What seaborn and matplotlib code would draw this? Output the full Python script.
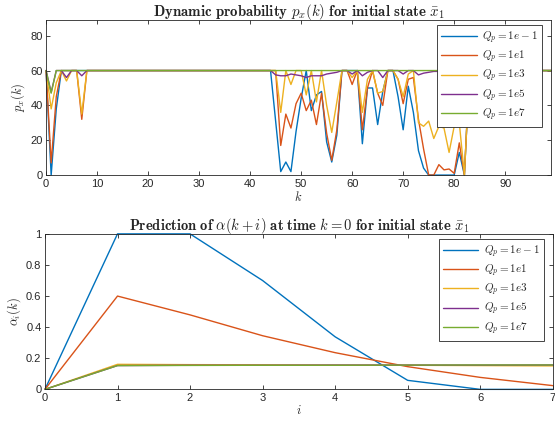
import numpy as np
import pandas as pd
import matplotlib
matplotlib.use('Agg')
import matplotlib.pyplot as plt
import seaborn as sns

# legend labels and MATLAB default colours
labels = [r'$Q_p = 1e-1$', r'$Q_p = 1e1$', r'$Q_p = 1e3$', r'$Q_p = 1e5$', r'$Q_p = 1e7$']
colors = ['#0072BD', '#D95319', '#EDB120', '#7E2F8E', '#77AC30']

# top plot: dynamic probability p_x(k), k = 0..99
k_steps = list(range(100))
p_q1 = [60, 0, 38, 60, 60, 60, 60, 60, 60, 60,
        60, 60, 60, 60, 60, 60, 60, 60, 60, 60,
        60, 60, 60, 60, 60, 60, 60, 60, 60, 60,
        60, 60, 60, 60, 60, 60, 60, 60, 60, 60,
        60, 60, 60, 60, 60, 31, 2, 7.5, 2, 25,
        44, 60, 37, 46, 48, 19, 7.5, 23, 60, 60,
        60, 60, 18, 50, 50, 29, 48, 60, 60, 45,
        26, 51, 36, 14, 4, 0, 0, 0, 0, 0,
        0, 13, 0, 60, 60, 60, 60, 60, 60, 60,
        60, 60, 60, 60, 60, 60, 60, 60, 60, 60]
p_q2 = [60, 7, 45, 60, 60, 60, 60, 32, 60, 60,
        60, 60, 60, 60, 60, 60, 60, 60, 60, 60,
        60, 60, 60, 60, 60, 60, 60, 60, 60, 60,
        60, 60, 60, 60, 60, 60, 60, 60, 60, 60,
        60, 60, 60, 60, 60, 60, 17, 35, 27, 41,
        47, 37, 43, 29, 47, 24, 8.5, 26, 60, 60,
        52, 60, 26, 50, 60, 47, 40, 60, 60, 55,
        41, 55, 56, 32, 15, 0, 0, 6, 3, 3.5,
        1, 18.5, 0, 60, 60, 60, 60, 60, 60, 60,
        60, 60, 60, 60, 60, 60, 60, 60, 60, 60]
p_q3 = [60, 38, 53, 60, 54, 60, 60, 35, 60, 60,
        60, 60, 60, 60, 60, 60, 60, 60, 60, 60,
        60, 60, 60, 60, 60, 60, 60, 60, 60, 60,
        60, 60, 60, 60, 60, 60, 60, 60, 60, 60,
        60, 60, 60, 60, 60, 60, 36, 60, 52, 60,
        60, 46, 60, 42, 60, 40, 24.5, 42, 60, 60,
        56, 60, 36, 55, 60, 47, 48, 60, 60, 55,
        45, 58, 60, 30, 28, 31, 21, 28, 27, 13,
        28, 30, 0, 60, 60, 60, 60, 60, 60, 60,
        60, 60, 60, 60, 60, 60, 60, 60, 60, 60]
p_q4 = [60, 47.5, 60, 60, 56, 60, 60, 57, 60, 60,
        60, 60, 60, 60, 60, 60, 60, 60, 60, 60,
        60, 60, 60, 60, 60, 60, 60, 60, 60, 60,
        60, 60, 60, 60, 60, 60, 60, 60, 60, 60,
        60, 60, 60, 60, 60, 57.5, 57, 57, 58, 57.5,
        57, 56, 57, 57, 57, 58, 58.5, 59, 60, 60,
        58, 60, 57, 59, 60, 60, 56, 60, 60, 60,
        58, 60, 60, 57.5, 58.5, 59, 59.5, 59.5, 59.7, 59.8,
        60, 60, 60, 60, 60, 60, 60, 60, 60, 60,
        60, 60, 60, 60, 60, 60, 60, 60, 60, 60]
p_q5 = [60, 47, 60, 60, 60, 60, 60, 60, 60, 60,
        60, 60, 60, 60, 60, 60, 60, 60, 60, 60,
        60, 60, 60, 60, 60, 60, 60, 60, 60, 60,
        60, 60, 60, 60, 60, 60, 60, 60, 60, 60,
        60, 60, 60, 60, 60, 60, 60, 60, 60, 60,
        60, 60, 60, 60, 60, 60, 60, 60, 60, 60,
        60, 60, 60, 60, 60, 60, 60, 60, 60, 60,
        60, 60, 60, 60, 60, 60, 60, 60, 60, 60,
        60, 60, 60, 60, 60, 60, 60, 60, 60, 60,
        60, 60, 60, 60, 60, 60, 60, 60, 60, 60]

# bottom plot: predicted alpha_i(k), i = 0..7
i_steps = [0, 1, 2, 3, 4, 5, 6, 7]
a_q1 = [0, 1.0, 1.0, 0.70, 0.338, 0.058, 0, 0]
a_q2 = [0, 0.60, 0.479, 0.345, 0.236, 0.146, 0.077, 0.024]
a_q3 = [0, 0.161, 0.159, 0.158, 0.156, 0.155, 0.153, 0.151]
a_q4 = [0, 0.153, 0.155, 0.155, 0.156, 0.156, 0.156, 0.157]
a_q5 = [0, 0.153, 0.154, 0.155, 0.155, 0.156, 0.157, 0.157]

top_xticks = [0, 10, 20, 30, 40, 50, 60, 70, 80, 90]
top_yticks = [0, 20, 40, 60, 80]
bot_xticks = [0, 1, 2, 3, 4, 5, 6, 7]
bot_yticks = [0, 0.2, 0.4, 0.6, 0.8, 1.0]
bot_yticklabels = ['0', '0.2', '0.4', '0.6', '0.8', '1']

sns.set_style('ticks')
plt.rcParams['font.family'] = ['Liberation Sans', 'DejaVu Sans']
plt.rcParams['mathtext.fontset'] = 'cm'

top_df = pd.DataFrame({'k': k_steps, labels[0]: p_q1, labels[1]: p_q2, labels[2]: p_q3,
                       labels[3]: p_q4, labels[4]: p_q5})
top_df = top_df.melt(id_vars='k', var_name='Q', value_name='p')
bot_df = pd.DataFrame({'i': i_steps, labels[0]: a_q1, labels[1]: a_q2, labels[2]: a_q3,
                       labels[3]: a_q4, labels[4]: a_q5})
bot_df = bot_df.melt(id_vars='i', var_name='Q', value_name='a')

palette = dict(zip(labels, colors))

fig = plt.figure(figsize=(5.55, 4.26), dpi=100)
ax1 = fig.add_axes([0.083, 0.589, 0.910, 0.364])
ax2 = fig.add_axes([0.081, 0.086, 0.915, 0.365])

sns.lineplot(data=top_df, x='k', y='p', hue='Q', hue_order=labels, palette=palette,
             linewidth=1.0, ax=ax1)
sns.lineplot(data=bot_df, x='i', y='a', hue='Q', hue_order=labels, palette=palette,
             linewidth=1.0, ax=ax2)

edge = '#262626'
for ax in [ax1, ax2]:
    for line in ax.lines:
        line.set_clip_on(False)
    for s in ax.spines.values():
        s.set_visible(True)
        s.set_color(edge)
        s.set_linewidth(0.6)
    ax.tick_params(direction='in', length=3, width=0.6, top=True, right=True,
                   labelsize=8, colors=edge, pad=2.5)
    ax.legend(loc='upper right', bbox_to_anchor=(0.982, 0.965), borderaxespad=0,
              fontsize=8, frameon=True, fancybox=False, framealpha=1,
              edgecolor=edge, handlelength=3.2, labelspacing=0.25,
              borderpad=0.35, handletextpad=0.5).get_frame().set_linewidth(0.6)

ax1.set_xlim(0, 99)
ax1.set_ylim(0, 89)
ax1.set_xticks(top_xticks)
ax1.set_yticks(top_yticks)
ax1.set_title(r'$\mathbf{Dynamic\ probability}\ p_x(k)\ \mathbf{for\ initial\ state}\ \bar{x}_1$',
              fontsize=10.7, pad=3)
ax1.set_xlabel(r'$k$', fontsize=9, labelpad=1)
ax1.set_ylabel(r'$p_x(k)$', fontsize=9, labelpad=2)

ax2.set_xlim(0, 7)
ax2.set_ylim(0, 1)
ax2.set_xticks(bot_xticks)
ax2.set_yticks(bot_yticks)
ax2.set_yticklabels(bot_yticklabels)
ax2.set_title(r'$\mathbf{Prediction\ of}\ \alpha(k+i)\ \mathbf{at\ time}\ k=0\ \mathbf{for\ initial\ state}\ \bar{x}_1$',
              fontsize=10.5, pad=3)
ax2.set_xlabel(r'$i$', fontsize=9, labelpad=1)
ax2.set_ylabel(r'$\alpha_i(k)$', fontsize=9, labelpad=2)

fig.savefig('out.png', dpi=100)
